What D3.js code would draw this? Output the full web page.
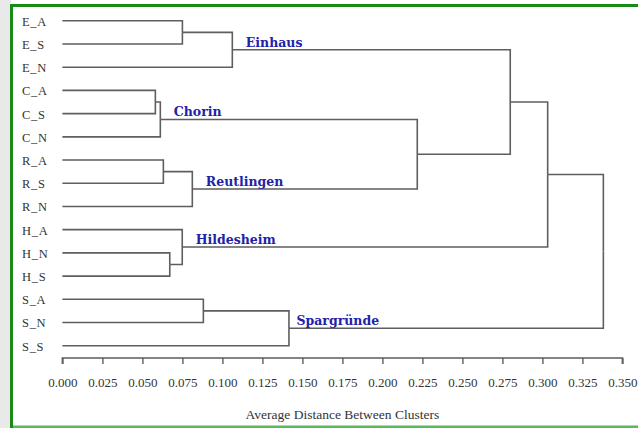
<!DOCTYPE html>
<html>
<head>
<meta charset="utf-8">
<script src="https://cdn.jsdelivr.net/npm/d3@7"></script>
<style>
  html, body { margin: 0; padding: 0; background: #ffffff; }
  svg { display: block; }
</style>
</head>
<body>
<svg id="chart" width="638" height="428"></svg>
<script>
// ---------- data ----------
const leaves = ["E_A","E_S","E_N","C_A","C_S","C_N","R_A","R_S","R_N","H_A","H_N","H_S","S_A","S_N","S_S"];

const mergeIds = ["e1","E","c1","C","r1","R","CR","ECR","h1","H","ECRH","s1","S","root"];
const mergeChildren = [
  ["E_A","E_S"], ["e1","E_N"],
  ["C_A","C_S"], ["c1","C_N"],
  ["R_A","R_S"], ["r1","R_N"],
  ["C","R"], ["E","CR"],
  ["H_N","H_S"], ["H_A","h1"],
  ["ECR","H"],
  ["S_A","S_N"], ["s1","S_S"],
  ["ECRH","S"]
];
const mergeHeights = [0.075, 0.1062, 0.0581, 0.0612, 0.0631, 0.0812, 0.2218, 0.2799, 0.0671, 0.0749, 0.3033, 0.0881, 0.1416, 0.3381];

const clusterIds   = ["E","C","R","H","S"];
const clusterNames = ["Einhaus","Chorin","Reutlingen","Hildesheim","Spargründe"];

const xTicks = [0,0.025,0.05,0.075,0.1,0.125,0.15,0.175,0.2,0.225,0.25,0.275,0.3,0.325,0.35];
const xTitle = "Average Distance Between Clusters";

// ---------- layout config ----------
const labelNudge = { "Spargründe": -6 };

// ---------- build hierarchy ----------
const nodeMap = {};
leaves.forEach(l => nodeMap[l] = { name: l, height: 0 });
mergeIds.forEach((id, i) => {
  nodeMap[id] = { name: id, height: mergeHeights[i], children: mergeChildren[i].map(c => nodeMap[c]) };
});
const root = d3.hierarchy(nodeMap["root"]);

const svg = d3.select("#chart");

// frame
svg.append("rect").attr("x", 0).attr("y", 0).attr("width", 11).attr("height", 428).attr("fill", "#e9e9e9");
svg.append("rect").attr("x", 11).attr("y", 425.5).attr("width", 627).attr("height", 2.5).attr("fill", "#5cb85c");
svg.append("rect").attr("x", 10).attr("y", 4).attr("width", 628).attr("height", 3).attr("fill", "#178a17");
svg.append("rect").attr("x", 10).attr("y", 4).attr("width", 3).attr("height", 424).attr("fill", "#178a17");

const x = d3.scaleLinear().domain([0, 0.35]).range([62.4, 622.4]);
const y = d3.scalePoint().domain(leaves).range([20.8, 345.7]);

// positions
root.eachAfter(n => {
  n.px = x(n.data.height);
  if (!n.children) n.py = y(n.data.name);
  else n.py = d3.mean(n.children, c => c.py);
});

const lineColor = "#5e5e5e";

// links (elbow)
svg.append("g")
  .selectAll("path")
  .data(root.links())
  .join("path")
  .attr("d", l => `M${l.target.px},${l.target.py}H${l.source.px}V${l.source.py}`)
  .attr("fill", "none")
  .attr("stroke", lineColor)
  .attr("stroke-width", 1.6);

// leaf labels
svg.append("g")
  .selectAll("text")
  .data(root.leaves())
  .join("text")
  .attr("x", 22)
  .attr("y", d => d.py + 5)
  .attr("font-family", "'Liberation Serif', 'Times New Roman', serif")
  .attr("font-size", 12.5)
  .attr("letter-spacing", 0.7)
  .attr("fill", "#333")
  .text(d => d.data.name);

// cluster labels
const clusterNodes = root.descendants().filter(n => clusterIds.includes(n.data.name));
svg.append("g")
  .selectAll("text")
  .data(clusterNodes)
  .join("text")
  .attr("x", d => {
    const nm = clusterNames[clusterIds.indexOf(d.data.name)];
    return d.px + 13.5 + (labelNudge[nm] || 0);
  })
  .attr("y", d => d.py - 3)
  .attr("font-family", "'DejaVu Serif', serif")
  .attr("font-weight", "bold")
  .attr("font-size", 12.5)
  .attr("fill", "#2222a8")
  .text(d => clusterNames[clusterIds.indexOf(d.data.name)]);

// axis
const axis = d3.axisBottom(x)
  .tickValues(xTicks)
  .tickFormat(d3.format(".3f"))
  .tickSize(6)
  .tickSizeOuter(6)
  .tickPadding(14);

const ax = svg.append("g")
  .attr("transform", "translate(0,358)")
  .call(axis);
ax.select(".domain").attr("stroke", lineColor).attr("stroke-width", 1.6)
  .attr("d", `M${x(0)},6V0H${x(0.35)}V6`);
ax.selectAll(".tick line").attr("stroke", lineColor).attr("stroke-width", 1.4);
ax.selectAll(".tick text")
  .attr("font-family", "'Liberation Serif', 'Times New Roman', serif")
  .attr("font-size", 13)
  .attr("fill", "#333");

svg.append("text")
  .attr("x", (x(0) + x(0.35)) / 2)
  .attr("y", 419)
  .attr("text-anchor", "middle")
  .attr("font-family", "'Liberation Serif', 'Times New Roman', serif")
  .attr("font-size", 13.5)
  .attr("fill", "#333")
  .text(xTitle);
</script>
</body>
</html>
